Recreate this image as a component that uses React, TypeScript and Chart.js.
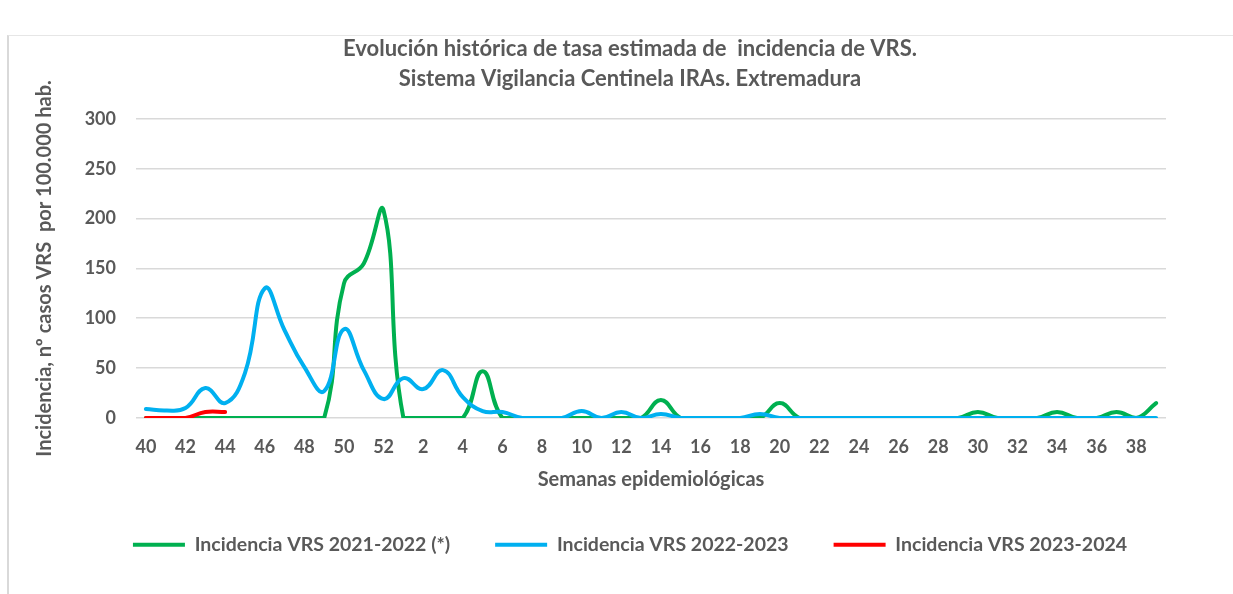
import React, { useEffect, useRef } from 'react';
import { Chart, registerables } from 'chart.js';

Chart.register(...registerables);

const weeks = [
  '40', '41', '42', '43', '44', '45', '46', '47', '48', '49', '50', '51', '52',
  '1', '2', '3', '4', '5', '6', '7', '8', '9', '10', '11', '12', '13', '14', '15',
  '16', '17', '18', '19', '20', '21', '22', '23', '24', '25', '26', '27', '28', '29',
  '30', '31', '32', '33', '34', '35', '36', '37', '38', '39',
];

const seriesNames = [
  'Incidencia VRS 2021-2022 (*)',
  'Incidencia VRS 2022-2023',
  'Incidencia VRS 2023-2024',
];

// 2021-2022 season
const vrs2122 = [
  0, 0, 0, 0, 0, 0, 0, 0, 0, 0, 135, 155, 208,
  0, 0, 0, 0, 47, 0, 0, 0, 0, 0, 0, 0, 0, 18, 0,
  0, 0, 0, 0, 15, 0, 0, 0, 0, 0, 0, 0, 0, 0,
  6, 0, 0, 0, 6, 0, 0, 6, 0, 15,
];

// 2022-2023 season
const vrs2223 = [
  9, 7.5, 10, 30, 15, 45, 130, 88, 51, 27, 89, 48, 19,
  40, 29, 48, 21, 7, 6, 0, 0, 0, 7, 0, 6, 0, 4, 0,
  0, 0, 0, 4, 0, 0, 0, 0, 0, 0, 0, 0, 0, 0,
  0, 0, 0, 0, 0, 0, 0, 0, 0, 0,
];

// 2023-2024 season
const vrs2324 = [0, 0, 0, 6, 6];

const seriesColors = ['#00B050', '#00B0F0', '#FF0000'];

const titleLines = [
  'Evolución histórica de tasa estimada de  incidencia de VRS.',
  'Sistema Vigilancia Centinela IRAs. Extremadura',
];
const xTitle = 'Semanas epidemiológicas';
const yTitle = 'Incidencia, nº casos VRS  por 100.000 hab.';
const yMin = 0;
const yMax = 300;
const yStep = 50;

const TEXT = '#595959';
const FAMILY = 'Lato';

export default function App() {
  const ref = useRef<HTMLCanvasElement | null>(null);

  useEffect(() => {
    if (!ref.current) return;
    const font = (size: number) => ({ family: FAMILY, size, weight: 'bold' as const, lineHeight: 1.2 });
    const mk = (i: number, data: number[], order: number) => ({
      label: seriesNames[i],
      data,
      borderColor: seriesColors[i],
      backgroundColor: seriesColors[i],
      borderWidth: 4,
      pointRadius: 0,
      pointHoverRadius: 0,
      tension: 0.45,
      fill: false,
      borderCapStyle: 'round' as const,
      borderJoinStyle: 'round' as const,
      order,
      yAxisID: 'y',
    });
    const chart = new Chart(ref.current, {
      type: 'line',
      data: {
        labels: weeks,
        datasets: [mk(0, vrs2122, 3), mk(1, vrs2223, 2), mk(2, vrs2324, 1)],
      },
      options: {
        responsive: false,
        animation: false,
        devicePixelRatio: 1,
        layout: { padding: { left: 27, right: 0, top: 0, bottom: 29.5 } },
        plugins: {
          title: {
            display: true,
            text: titleLines,
            color: TEXT,
            font: { family: FAMILY, size: 22, weight: 'bold', lineHeight: 1.36 },
            padding: { top: 34, bottom: 25 },
          },
          legend: {
            position: 'bottom',
            labels: {
              usePointStyle: true,
              pointStyle: 'line',
              pointStyleWidth: 52,
              color: TEXT,
              font: { family: FAMILY, size: 19.5, weight: 'bold', lineHeight: 1.2 },
              padding: 45,
              sort: (a: any, b: any) => a.datasetIndex - b.datasetIndex,
            },
          },
          tooltip: { enabled: false },
        },
        scales: {
          x: {
            offset: true,
            grid: { display: false, drawTicks: false },
            border: { display: false },
            ticks: {
              autoSkip: false,
              maxRotation: 0,
              minRotation: 0,
              padding: 18,
              color: TEXT,
              font: font(18),
              callback: (_v: any, i: number) => (i % 2 === 0 ? weeks[i] : ''),
            },
            title: {
              display: true,
              text: xTitle,
              color: TEXT,
              font: font(20),
              padding: { top: 0, bottom: -2 },
            },
            afterFit: (s: any) => {
              s.height = 72;
            },
          },
          y: {
            position: 'left',
            min: yMin,
            max: yMax,
            grid: { color: '#d9d9d9', lineWidth: 1.6, drawTicks: false },
            border: { display: false },
            ticks: {
              stepSize: yStep,
              padding: 20,
              color: TEXT,
              font: font(18),
            },
            title: {
              display: true,
              text: yTitle,
              color: TEXT,
              font: font(20),
              padding: { top: 6, bottom: 0 },
            },
            afterFit: (s: any) => {
              s.width = 109;
            },
          },
          yRight: {
            position: 'right',
            min: yMin,
            max: yMax,
            grid: { display: false, drawTicks: false },
            border: { display: false },
            ticks: { display: false },
            afterFit: (s: any) => {
              s.width = 67;
            },
          },
        },
      },
    } as any);
    return () => chart.destroy();
  }, []);

  return (
    <div style={{ position: 'fixed', left: 0, top: 0, width: 1233, height: 594, background: '#fff', overflow: 'hidden' }}>
      <div
        style={{
          position: 'absolute',
          left: 7,
          top: 35,
          width: 1240,
          height: 600,
          borderLeft: '2px solid #d9d9d9',
          borderTop: '1px solid #e6e6e6',
        }}
      />
      <canvas ref={ref} width={1233} height={594} style={{ position: 'absolute', left: 0, top: 0 }} />
    </div>
  );
}
